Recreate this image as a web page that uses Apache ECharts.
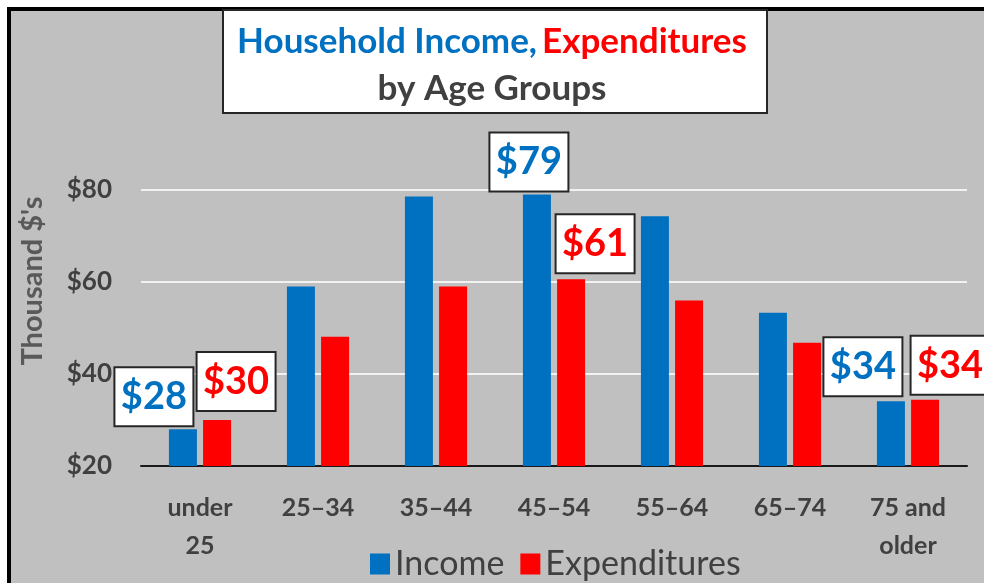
<!DOCTYPE html>
<html>
<head>
<meta charset="utf-8">
<script src="https://cdn.jsdelivr.net/npm/echarts@6/dist/echarts.min.js"></script>
<style>
  html, body { margin: 0; padding: 0; background: #fff; }
  #chart { width: 984px; height: 583px; }
</style>
</head>
<body>
<div id="chart"></div>
<script>
var categories = ['under\n25', '25–34', '35–44', '45–54', '55–64', '65–74', '75 and\nolder'];
var income = [28, 59, 78.6, 79, 74.3, 53.3, 34.1];
var expenditures = [30, 48.1, 59, 60.6, 56, 46.8, 34.4];
var yTicks = [20, 40, 60, 80];
var seriesNames = ['Income', 'Expenditures'];

var FONT = 'Lato';
var TEXT = '#404040';

// which bars carry a boxed value label, and where the box sits
var incomeLabels = {0: [-29, -4], 3: [-8, -4], 6: [-28, -6]};
var expLabels = {0: [19, -10], 3: [24, -7], 6: [25, -6]};

function withLabels(values, spots, color) {
    return values.map(function (v, i) {
        if (!spots[i]) return v;
        return {
            value: v,
            label: {
                show: true,
                position: 'top',
                distance: 0,
                offset: spots[i],
                formatter: function (p) { return '$' + Math.round(p.value); },
                color: color,
                fontFamily: FONT,
                fontWeight: 'bold',
                fontSize: 38,
                backgroundColor: '#fff',
                borderColor: '#262626',
                borderWidth: 2,
                width: 77,
                height: 57,
                lineHeight: 57,
                align: 'center',
                padding: 0
            }
        };
    });
}

var myChart = echarts.init(document.getElementById('chart'));
option = {
    backgroundColor: '#fff',
    color: ['#0070c0', '#ff0000'],
    animation: false,
    graphic: [
        {
            type: 'rect',
            z: -100,
            shape: {x: 9, y: 9, width: 1000, height: 600},
            style: {fill: '#c0c0c0', stroke: '#000', lineWidth: 4}
        },
        {
            type: 'rect',
            z: 50,
            shape: {x: 223, y: 10, width: 544, height: 103},
            style: {fill: '#fff', stroke: '#262626', lineWidth: 2}
        },
        {
            type: 'text',
            z: 50,
            x: 33,
            y: 281,
            rotation: Math.PI / 2,
            style: {
                text: "Thousand $'s",
                fill: '#595959',
                font: 'bold 29px ' + FONT,
                align: 'center',
                verticalAlign: 'middle'
            }
        }
    ],
    title: {
        text: '{b|Household Income,} {r|Expenditures}\n{g|by Age Groups}',
        left: 'center',
        top: 18,
        padding: 0,
        z: 60,
        textStyle: {
            rich: {
                b: {color: '#0070c0', fontFamily: FONT, fontWeight: 'bold', fontSize: 35, lineHeight: 47},
                r: {color: '#ff0000', fontFamily: FONT, fontWeight: 'bold', fontSize: 35, lineHeight: 47},
                g: {color: TEXT, fontFamily: FONT, fontWeight: 'bold', fontSize: 35, lineHeight: 47}
            }
        }
    },
    legend: {
        data: seriesNames,
        left: 365,
        top: 542,
        itemWidth: 20,
        itemHeight: 21,
        itemGap: 16,
        icon: 'rect',
        textStyle: {
            color: TEXT,
            fontFamily: FONT,
            fontSize: 34,
            padding: [0, 0, 0, 0]
        }
    },
    grid: {
        left: 141,
        right: 17,
        top: 190,
        bottom: 117
    },
    xAxis: {
        type: 'category',
        data: categories,
        axisTick: {show: false},
        axisLine: {lineStyle: {color: '#1a1a1a', width: 2}},
        axisLabel: {
            color: TEXT,
            fontFamily: FONT,
            fontWeight: 'bold',
            fontSize: 25,
            lineHeight: 38,
            margin: 23,
            interval: 0
        }
    },
    yAxis: {
        type: 'value',
        min: yTicks[0],
        max: yTicks[yTicks.length - 1],
        interval: 20,
        axisLine: {show: false},
        axisTick: {show: false},
        splitLine: {lineStyle: {color: '#f2f2f2', width: 2}},
        axisLabel: {
            formatter: '${value}',
            color: TEXT,
            fontFamily: FONT,
            fontWeight: 'bold',
            fontSize: 26,
            margin: 29
        }
    },
    series: [
        {
            name: seriesNames[0],
            type: 'bar',
            barWidth: 28,
            barGap: '22%',
            data: withLabels(income, incomeLabels, '#0070c0')
        },
        {
            name: seriesNames[1],
            type: 'bar',
            barWidth: 28,
            data: withLabels(expenditures, expLabels, '#ff0000')
        }
    ]
};
myChart.setOption(option);
</script>
</body>
</html>
